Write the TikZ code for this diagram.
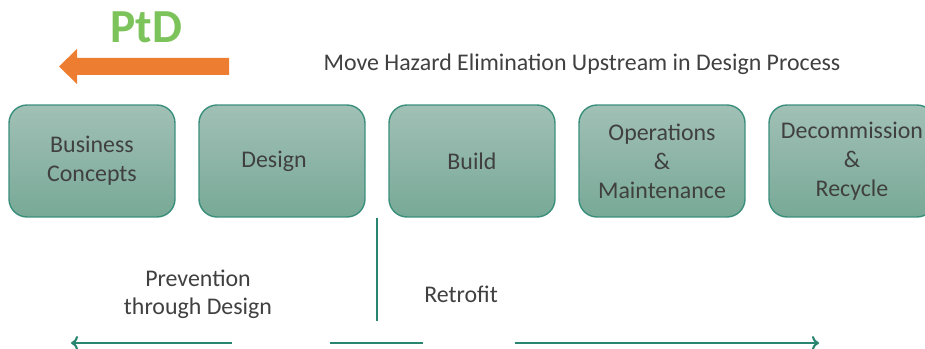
\documentclass[tikz,border=0pt]{standalone}
\usepackage{fontspec}
\setmainfont{Carlito}
\usetikzlibrary{arrows.meta}
\definecolor{boxtop}{HTML}{A1C0B6}
\definecolor{boxbot}{HTML}{78A997}
\definecolor{boxedge}{HTML}{3A8F7B}
\definecolor{teal}{HTML}{2A8570}
\definecolor{txt}{HTML}{404040}
\definecolor{ptdgreen}{HTML}{7DC35B}
\definecolor{ptdorange}{HTML}{ED7D31}
\tikzset{
  stage/.style={draw=boxedge, line width=0.8pt, rounded corners=0.36cm,
    top color=boxtop, bottom color=boxbot, minimum width=3.32cm,
    minimum height=2.24cm, align=center, text=txt, font=\fontsize{13.6}{16.5}\selectfont},
  lbl/.style={text=txt, align=center, font=\fontsize{13.6}{16}\selectfont},
  tealline/.style={draw=teal, line width=1.2pt}
}
\begin{document}
\begin{tikzpicture}[x=0.02cm,y=-0.02cm]
			%%%%% START %%%%%
			\useasboundingbox (0,0) rectangle (925,348);
			
			\node[text=ptdgreen, font=\fontsize{27}{30}\selectfont\bfseries] (ptd) at (146,27) {PtD};
			\fill[ptdorange] (229,58) -- (77,58) -- (77,49) -- (59,66.5) -- (77,84) -- (77,75) -- (229,75) -- cycle;
			
			\node[lbl] (goal) at (582,64) {Move Hazard Elimination Upstream in Design Process};
			
			\node[stage] (concept) at (92,161) {Business\\Concepts};
			\node[stage] (design) at (282,161) {Design\hspace{0.32cm}};
			\node[stage] (build) at (472,161) {Build};
			\node[stage] (operate) at (662,161) {Operations\\\&\\Maintenance};
			\node[stage] (decom) at (852,161) {Decommission\\\&\\Recycle};
			
			\coordinate (split) at (377,218);
			\coordinate (splitend) at (377,321);
			\draw[tealline] (split) -- (splitend);
			
			\node[lbl] (ptdlabel) at (198,294) {Prevention\\through Design};
			\node[lbl] (retro) at (461,294) {Retrofit};
			
			\coordinate (la) at (232,343);
			\coordinate (lb) at (71,343);
			\coordinate (ma) at (330,343);
			\coordinate (mb) at (423,343);
			\coordinate (ra) at (515,343);
			\coordinate (rb) at (819,343);
			\draw[tealline, -{To[length=4pt,width=8pt]}] (la) -- (lb);
			\draw[tealline] (ma) -- (mb);
			\draw[tealline, -{To[length=4pt,width=8pt]}] (ra) -- (rb);
			%%%%% END %%%%%
\end{tikzpicture}
\end{document}
